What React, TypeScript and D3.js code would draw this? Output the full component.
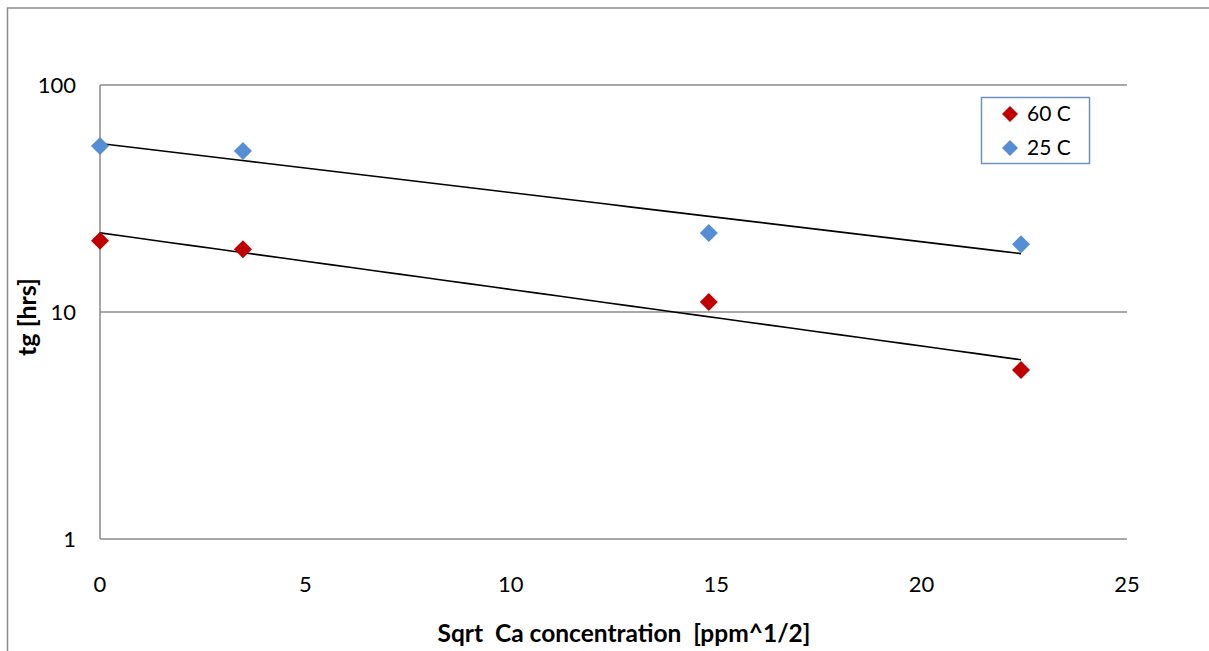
import React from "react";
import * as d3 from "d3";

const series60x = [0, 3.48, 14.82, 22.42];
const series60y = [20.6, 18.9, 11.07, 5.55];
const series25x = [0, 3.48, 14.82, 22.42];
const series25y = [53.9, 51.2, 22.3, 19.9];
const seriesNames = ["60 C", "25 C"];
const seriesColors = ["#C00000", "#558ED5"];
const xTicks = [0, 5, 10, 15, 20, 25];
const yTicks = [1, 10, 100];

const W = 1209;
const H = 651;
const FONT = "Lato, 'Open Sans', sans-serif";

function expFit(xs: number[], ys: number[]) {
  const ly = ys.map((v) => Math.log10(v));
  const mx = d3.mean(xs)!;
  const my = d3.mean(ly)!;
  let sxy = 0, sxx = 0;
  xs.forEach((x, i) => {
    sxy += (x - mx) * (ly[i] - my);
    sxx += (x - mx) * (x - mx);
  });
  const b = sxy / sxx;
  const a = my - b * mx;
  return (x: number) => Math.pow(10, a + b * x);
}

export default function App() {
  const x = d3.scaleLinear().domain([0, 25]).range([100, 1127]);
  const y = d3.scaleLog().domain([1, 100]).range([539, 85]);

  const data = [
    { xs: series60x, ys: series60y },
    { xs: series25x, ys: series25y },
  ];

  const diamond = (cx: number, cy: number, r: number) =>
    `M${cx},${cy - r}L${cx + r},${cy}L${cx},${cy + r}L${cx - r},${cy}Z`;

  const line = d3
    .line<[number, number]>()
    .x((d) => x(d[0]))
    .y((d) => y(d[1]));

  return (
    <svg
      width={W}
      height={H}
      style={{ position: "absolute", left: 0, top: 0, background: "#fff" }}
    >
      <rect x={7.5} y={8} width={1300} height={1000} fill="#fff" stroke="#8c8c8c" strokeWidth={1.5} />
      {yTicks.map((t) => (
        <g key={t}>
          <line x1={x(0)} x2={x(25)} y1={y(t)} y2={y(t)} stroke="#8a8a8a" strokeWidth={1.5} />
          <text
            x={76}
            y={y(t)}
            dy="0.35em"
            textAnchor="end"
            fontFamily={FONT}
            fontSize={22}
            fill="#000"
          >
            {t}
          </text>
        </g>
      ))}
      <line x1={x(0)} x2={x(0)} y1={y(100)} y2={y(1)} stroke="#8a8a8a" strokeWidth={1.5} />
      {xTicks.map((t) => (
        <text
          key={t}
          x={x(t)}
          y={592}
          textAnchor="middle"
          fontFamily={FONT}
          fontSize={22}
          fill="#000"
        >
          {t}
        </text>
      ))}
      {data.map((s, i) => {
        const f = expFit(s.xs, s.ys);
        const x0 = d3.min(s.xs)!;
        const x1 = d3.max(s.xs)!;
        const pts: [number, number][] = d3.range(0, 41).map((k) => {
          const xv = x0 + ((x1 - x0) * k) / 40;
          return [xv, f(xv)];
        });
        return (
          <path key={"t" + i} d={line(pts)!} fill="none" stroke="#000" strokeWidth={1.6} />
        );
      })}
      {data.map((s, i) =>
        s.xs.map((xv, j) => (
          <path key={i + "-" + j} d={diamond(x(xv), y(s.ys[j]), 9)} fill={seriesColors[i]} />
        ))
      )}
      <text
        transform={`translate(36,${y(10) + 5}) rotate(-90)`}
        textAnchor="middle"
        fontFamily={FONT}
        fontWeight="bold"
        fontSize={25}
        fill="#000"
      >
        tg [hrs]
      </text>
      <text
        x={624}
        y={642}
        textAnchor="middle"
        fontFamily={FONT}
        fontWeight="bold"
        fontSize={24.5}
        fill="#000"
        style={{ whiteSpace: "pre" }}
      >
        {"Sqrt  Ca concentration  [ppm^1/2]"}
      </text>
      <rect x={981.5} y={97.5} width={108} height={66} fill="#fff" stroke="#6E91C4" strokeWidth={1.5} />
      {seriesNames.map((n, i) => (
        <g key={n}>
          <path d={diamond(1010, 114 + i * 34, 8)} fill={seriesColors[i]} />
          <text x={1027} y={114 + i * 34} dy="0.35em" fontFamily={FONT} fontSize={21} fill="#000">
            {n}
          </text>
        </g>
      ))}
    </svg>
  );
}
